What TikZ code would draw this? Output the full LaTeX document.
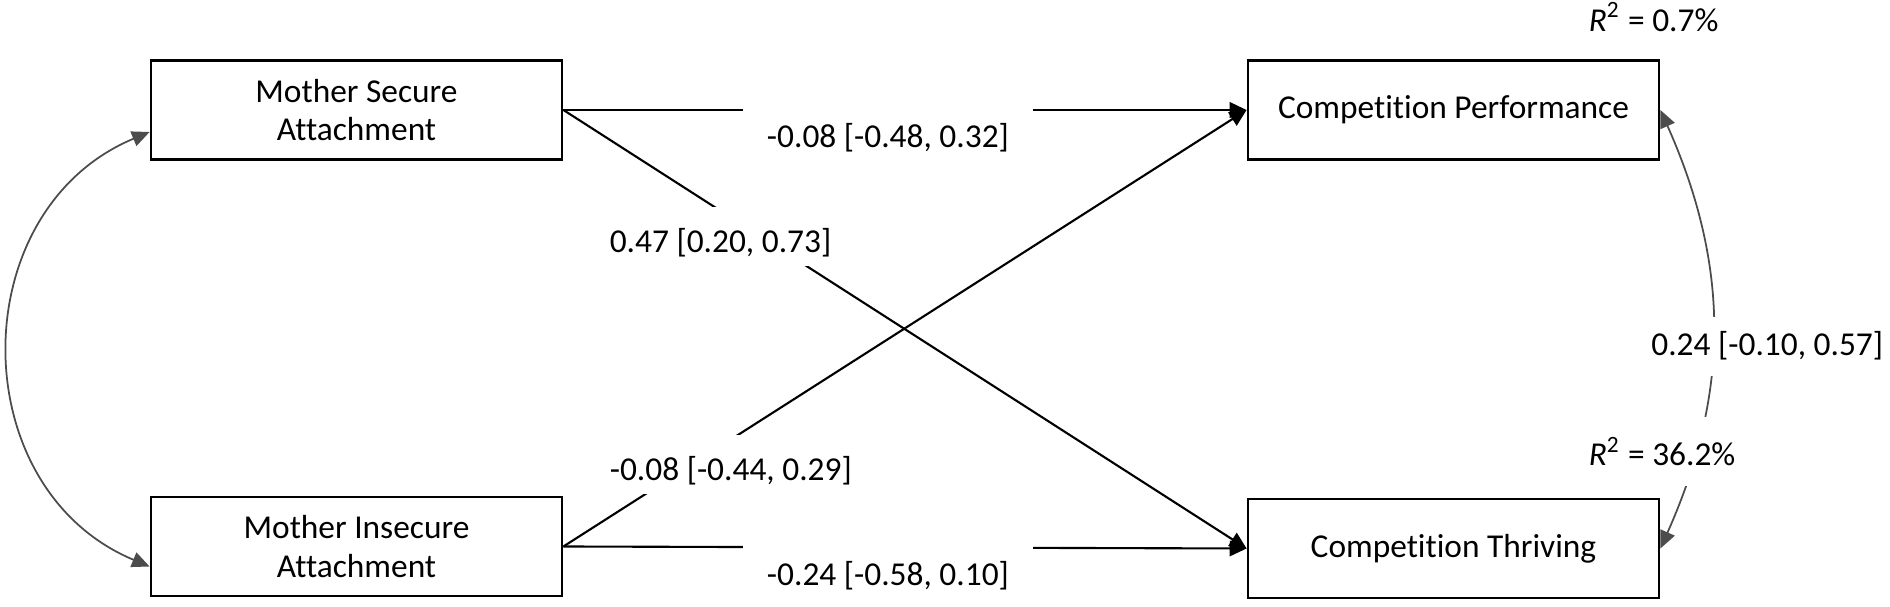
\documentclass[tikz,border=0pt]{standalone}
\usepackage{fontspec}
\setmainfont{Carlito}[Ligatures=NoCommon]
\usetikzlibrary{arrows.meta}

\begin{document}
\begin{tikzpicture}[
  font=\fontsize{9.5}{11}\selectfont,
  var/.style={draw, line width=0.8pt, minimum width=4.11cm, minimum height=0.99cm, align=center, inner sep=0pt},
  effect/.style={line width=0.6pt, -{Triangle[length=4.8pt,width=4.4pt]}},
  cov/.style={draw=black!70, line width=0.5pt, {Triangle[length=5pt,width=4.4pt]}-{Triangle[length=5pt,width=4.4pt]}},
  coef/.style={fill=white, anchor=base, inner xsep=0.24cm, inner ysep=0.03cm, text height=0.43cm, text depth=0.1cm},
  ccoef/.style={fill=white, inner xsep=1pt, inner ysep=0.15cm},
  rsq/.style={fill=white, anchor=base west, inner ysep=0.2cm}
]
  \useasboundingbox (0,0) rectangle (18.9,-6.07);
  % observed variables
  \node[var] (ms) at (3.565,-1.10) {Mother Secure\\Attachment};
  \node[var] (mi) at (3.565,-5.465) {Mother Insecure\\Attachment};
  \node[var] (cp) at (14.535,-1.10) {Competition Performance};
  \node[var] (ct) at (14.535,-5.485) {Competition Thriving};
  % regression paths
  \draw[effect] (ms.east) -- (cp.west) node[coef, pos=0.475, yshift=-0.38cm] {-0.08 [-0.48, 0.32]};
  \draw[effect] (ms.east) -- (ct.west) node[coef, pos=0.23, yshift=-0.42cm] {0.47 [0.20, 0.73]};
  \draw[effect] (mi.east) -- (cp.west) node[coef, pos=0.245, yshift=-0.41cm] {-0.08 [-0.44, 0.29]};
  \draw[effect] (mi.east) -- (ct.west) node[coef, pos=0.475, yshift=-0.38cm] {-0.24 [-0.58, 0.10]};
  % covariances
  \draw[cov] ([yshift=-0.22cm]ms.west) .. controls +(-1.87,-0.78) and +(-1.87,0.78) .. ([yshift=-0.2cm]mi.west);
  \draw[cov] (cp.east) to[bend left=24] node[ccoef, pos=0.54, xshift=0.55cm] {0.24 [-0.10, 0.57]} (ct.east);
  % explained variance
  \node[rsq] (r2cp) at ([xshift=-0.84cm, yshift=0.28cm]cp.north east) {\textit{R}\textsuperscript{2} = 0.7\%};
  \node[rsq] (r2ct) at ([xshift=-0.84cm, yshift=0.32cm]ct.north east) {\textit{R}\textsuperscript{2} = 36.2\%};
\end{tikzpicture}
\end{document}
